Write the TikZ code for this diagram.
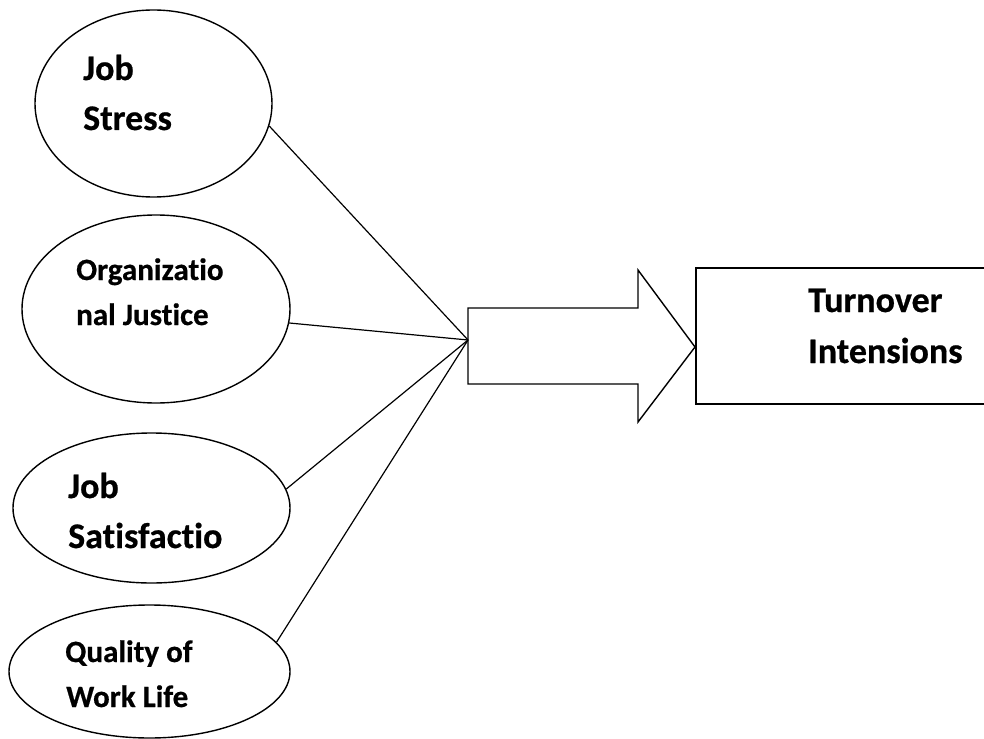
\documentclass[tikz,border=0pt]{standalone}
\usepackage{fontspec}
\setmainfont{Carlito}[Ligatures=NoCommon, BoldFeatures={FakeBold=0.6}]
\usetikzlibrary{shapes.geometric}
\tikzset{
  oval/.style={draw, ellipse, line width=1.4pt, inner sep=0pt},
  lbl/.style={anchor=base west, inner sep=0pt, font=\bfseries\fontsize{#1}{#1}\selectfont},
  conn/.style={line width=1.2pt},
}
\begin{document}
\begin{tikzpicture}[x=1pt,y=-1pt]
\useasboundingbox (0,0) rectangle (984,738);
% ellipses
\node[oval, minimum width=237pt, minimum height=187pt] (js) at (153.5,103.5) {};
\node[oval, minimum width=268pt, minimum height=188pt] (oj) at (156,309) {};
\node[oval, minimum width=277pt, minimum height=150pt] (jsat) at (151.5,508) {};
\node[oval, minimum width=281pt, minimum height=133pt] (qwl) at (149.5,671.5) {};
% labels
\node[lbl=36] (t1a) at (83,80) {Job};
\node[lbl=36] (t1b) at (83,130) {Stress};
\node[lbl=31] (t2a) at (76,280) {Organizatio};
\node[lbl=31] (t2b) at (76,325) {nal Justice};
\node[lbl=36] (t3a) at (68,498) {Job};
\node[lbl=36] (t3b) at (68,548) {Satisfactio};
\node[lbl=31] (t4a) at (65,662) {Quality of};
\node[lbl=31] (t4b) at (66,707) {Work Life};
% block arrow
\coordinate (conv) at (468,340);
\draw[line width=1.4pt, line join=miter] (468,308) -- (638,308) -- (638,270) -- (695,347) -- (638,422) -- (638,384) -- (468,384) -- cycle;
% target box
\node[draw, line width=1.6pt, anchor=north west, minimum width=300pt, minimum height=136pt, inner sep=0pt] (ti) at (695,267) {};
\node[lbl=36] (t5a) at (808,312) {Turnover};
\node[lbl=36] (t5b) at (808,363) {Intensions};
% connectors
\draw[conn] (js.-11) -- (conv);
\draw[conn] (oj.-6) -- (conv);
\draw[conn] (jsat.8) -- (conv);
\draw[conn] (qwl.13) -- (conv);
\end{tikzpicture}
\end{document}
